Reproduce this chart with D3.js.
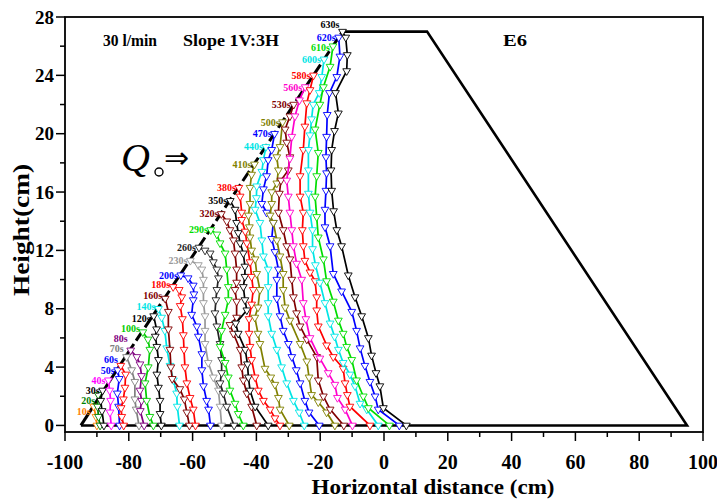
<!DOCTYPE html>
<html><head><meta charset="utf-8">
<script src="https://cdn.jsdelivr.net/npm/d3@7/dist/d3.min.js"></script>
<style>body{margin:0;background:#fff}svg{display:block}</style>
</head><body><svg id="c" width="717" height="500"></svg>
<script>
// ---- data ----
const times = ["10s","20s","30s","40s","50s","60s","70s","80s","100s","120s","140s","160s","180s","200s","230s","260s","290s","320s","350s","380s","410s","440s","470s","500s","530s","560s","580s","600s","610s","620s","630s"];
const p10=[[-91,1.3],[-90.3,0.6],[-90,0]];
const p20=[[-89.6,2.1],[-89.8,1.3],[-89.5,0.6],[-89,0]];
const p30=[[-88.2,2.4],[-88.8,1.7],[-88.4,1.0],[-87.8,0]];
const p40=[[-86.4,3.1],[-86,2.4],[-85.7,1.7],[-85.9,0.9],[-85.5,0]];
const p50=[[-83.5,3.8],[-83,3.2],[-83.6,2.2],[-83.2,1.3],[-82.9,0]];
const p60=[[-82.5,4.1],[-81,3.5],[-81.2,2.6],[-81.7,1.8],[-82.4,1.2],[-82.2,0.6],[-81.6,0]];
const p70=[[-80.7,4.7],[-79.1,3.8],[-78.1,3.0],[-78.1,1.8],[-77.7,1.1],[-76.8,0]];
const p80=[[-79.4,5.15],[-77.5,4.7],[-76.5,4.2],[-76,3.4],[-76.5,2.4],[-76,1.7],[-76.4,1.0],[-75.2,0]];
const p100=[[-75.6,6.4],[-74,5.9],[-73.4,5.2],[-73.9,4.0],[-74.9,2.9],[-74.4,1.7],[-73.4,0.6],[-72.3,0]];
const p120=[[-72.2,7.5],[-71.3,6.6],[-71.7,6.1],[-71.2,5.4],[-70.7,4.5],[-71.2,3.5],[-70.7,2.6],[-70.2,1.7],[-70.2,0.8],[-69.8,0]];
const p140=[[-70.7,8.0],[-69.7,7.4],[-68.7,6.5],[-68.1,5.3],[-67.1,4.1],[-66,3.1],[-65,2.2],[-64.8,1.3],[-64.1,0]];
const p160=[[-68.6,8.7],[-67.6,7.8],[-67.6,6.6],[-67.1,5.2],[-66.8,4],[-66.4,3.2],[-64,2.5],[-62.6,1.8],[-61.8,0.9],[-61,0]];
const p180=[[-66.1,9.5],[-64.2,9.3],[-63.4,8.8],[-63.9,8.2],[-63.2,7.3],[-62.9,6.2],[-62.7,5.2],[-62.4,4],[-61.8,2.9],[-60.8,1.9],[-59.8,1.1],[-59.1,0]];
const p200=[[-63.7,10.3],[-61.4,10.1],[-59.8,9.6],[-59.6,9.0],[-59.8,8.6],[-60.3,7.6],[-58.7,6.8],[-58.2,6.1],[-57.1,4.9],[-57.1,3.8],[-56.6,2.7],[-55.6,1.7],[-55,1.1],[-54.4,0]];
const p230=[[-60.7,11.3],[-58.2,11],[-57.1,10.7],[-56.6,10],[-56.6,9.3],[-56.6,8.4],[-56.1,7.5],[-56.1,6.5],[-56.1,5.6],[-55.1,4.3],[-53.5,3.3],[-51.9,2.4],[-51.4,1.3],[-50.9,0]];
const p260=[[-58,12.2],[-56.1,12],[-54.5,11.8],[-53.5,11.2],[-52.4,10.7],[-51.9,10.1],[-52.4,9.3],[-52.7,8.6],[-53,7.7],[-52.4,6.8],[-51.4,5.6],[-50.9,4.5],[-50.9,3.6],[-51.4,2.9],[-50.4,2.2],[-49.3,1.3],[-47,0]];
const p290=[[-54.3,13.4],[-52.4,13.1],[-51.4,12.5],[-49.8,11.8],[-49.3,10.7],[-48.8,9.5],[-48.8,8.6],[-49.8,7.6],[-50.9,6.5],[-51.4,5.4],[-49.8,4.3],[-48.8,3.3],[-48.3,2.4],[-46.7,1.5],[-45.7,0.8],[-44.1,0]];
const p320=[[-51,14.5],[-49.3,14],[-48.3,13.4],[-47.2,12.7],[-46.7,11.8],[-46.2,10.7],[-46.2,9.8],[-46.7,9.3],[-46.2,8.5],[-46.2,7.4],[-48.3,6.9],[-47.2,6.3],[-45.1,5.2],[-44.6,4],[-44.1,3.1],[-43,2.2],[-41.5,1.3],[-39.9,0]];
const p350=[[-48.2,15.4],[-46.7,14.8],[-46.2,13.9],[-45.7,13.2],[-45.1,12.5],[-44.1,11.8],[-43.6,10.9],[-43.6,10.2],[-44.1,9.5],[-43.6,8.6],[-43,7.9],[-46.5,7.0],[-45.7,6.3],[-43.5,5.2],[-42.8,4.2],[-42.5,3.3],[-42,2.4],[-40.4,1.3],[-36.3,0]];
const p380=[[-45.5,16.3],[-45.1,15.7],[-44.6,14.6],[-44.6,14.1],[-43.5,13.3],[-43,12.5],[-42,11.2],[-41.5,10.2],[-41,9.3],[-41.5,8.3],[-42.3,7.3],[-42.3,6.3],[-42,5.4],[-41.5,4.5],[-40.4,3.3],[-39.4,2.4],[-37.8,1.7],[-35.7,1.1],[-34.2,0.5],[-32.6,0]];
const p410=[[-40.6,17.9],[-41.5,17.2],[-42,16.3],[-42,15.2],[-42.5,14.4],[-42.2,13.6],[-42,12.9],[-41.5,12],[-40.4,11.4],[-39.9,10.4],[-38.9,9.3],[-39.5,8.1],[-40.5,7.4],[-39.5,6.3],[-38.9,5.6],[-37.3,3.9],[-35.5,3.3],[-34.2,2.8],[-33.1,1.9],[-32.6,1.1],[-29.7,0]];
const p440=[[-37,19.1],[-37.8,18.2],[-38.3,17.4],[-39.9,16.4],[-40,15.6],[-40.4,14.8],[-38.9,13.9],[-38.3,12.7],[-37.8,11.6],[-36.3,10.7],[-36.3,9.5],[-36.3,8.4],[-36.3,7.5],[-35.2,6.3],[-33.6,5.2],[-32.1,4],[-30.5,2.9],[-28.4,1.7],[-26.6,0.9],[-25,0]];
const p470=[[-34.3,20],[-35.2,18.9],[-36.3,18.2],[-36.8,17.1],[-37.8,16.2],[-38.3,15.2],[-36.8,14.6],[-34.7,13.9],[-35.2,12.8],[-34.2,11.9],[-33.1,10.7],[-33.6,10],[-33.6,8.7],[-32.6,7.5],[-31.6,6.5],[-30,5.6],[-28.9,4.7],[-27.5,3.8],[-26.3,2.9],[-24.8,1.7],[-23.5,0.9],[-20.3,0]];
const p500=[[-31.8,20.8],[-32.6,19.1],[-33.6,18.4],[-33.1,17.5],[-33.6,16.6],[-35.2,16],[-35.2,15.2],[-35.7,14.4],[-34.7,13.9],[-33.6,12.7],[-32.6,11.6],[-31.6,10.4],[-31.6,9.3],[-31,8.1],[-29.5,7.2],[-26.3,5.6],[-24.2,4.4],[-23.5,3.3],[-22.7,2.1],[-20.6,1.6],[-18,0.9],[-15.4,0]];
const p530=[[-28.3,22],[-29.5,21.2],[-31,20.3],[-30.5,19.4],[-29.5,18.4],[-30,17.5],[-32.3,16.8],[-32.8,15.9],[-33.1,14.6],[-31.6,13.4],[-30.5,12.3],[-29.5,11.4],[-28.9,10],[-28.4,8.8],[-27.4,7.7],[-26.3,6.8],[-24.2,5.9],[-21.1,4.7],[-20.6,3.1],[-19,2],[-16.9,1.1],[-12.6,0]];
const p560=[[-24.7,23.2],[-26.5,22.3],[-27.9,21.2],[-28.9,19.8],[-29.5,18.3],[-30.5,16.8],[-30,15.7],[-29.5,14.6],[-28.9,13.4],[-28.4,12.3],[-27.4,11.1],[-25.8,10],[-25.3,8.4],[-24.5,7.3],[-23.2,6],[-20.1,4.6],[-17.5,3.6],[-15.4,2.8],[-14.6,1.9],[-12.2,1.1],[-9.9,0]];
const p580=[[-22.1,24],[-23.2,23],[-24.2,22.1],[-24.8,20.5],[-25.3,18.9],[-26.3,17.1],[-26.3,15.7],[-25.3,14.6],[-25.6,13.4],[-25.3,12.3],[-24.8,11.3],[-23.2,10.5],[-21.6,9.9],[-21.1,8.8],[-21.1,7.9],[-20.6,6.8],[-18,5.5],[-15.9,4.7],[-12.8,3.9],[-12.2,2.9],[-11.5,2.1],[-10.7,1.3],[-4.4,0]];
const p600=[[-18.8,25.1],[-19.5,23.9],[-20.3,22.8],[-22.2,22.0],[-22.7,21],[-23.2,19.9],[-23.7,18.9],[-23.7,17.5],[-23.7,15.9],[-23.2,14.6],[-22.4,13.4],[-22.4,12.1],[-21.5,11],[-20.1,9.8],[-18.5,8.4],[-16.9,7],[-15.5,6.1],[-14.3,5.2],[-12.8,4.3],[-10.7,3.5],[-9.1,2.7],[-7.5,1.5],[-5.4,1.1],[-1.8,0]];
const p610=[[-16,26],[-16.9,24.6],[-19,23.2],[-20.1,22],[-21.6,20.3],[-20.6,18.7],[-21.1,17.1],[-21.6,15.7],[-21.1,14.3],[-20.6,12.9],[-19,11.4],[-18,9.9],[-15.9,8.5],[-14.3,7.2],[-12.8,6.3],[-11.7,5.4],[-10.1,4.5],[-8.6,3.1],[-6.5,2],[-4.9,1.2],[1.7,0]];
const p620=[[-14.2,26.6],[-13.8,25.3],[-14.8,23.9],[-17.1,22.8],[-17.8,21.3],[-18,19.8],[-18.2,18.4],[-18,17.3],[-18.2,16.1],[-18.5,14.8],[-18.5,13.6],[-16.9,12.3],[-15.9,10.4],[-13.3,9.2],[-10.1,7.8],[-8.6,6.5],[-7.5,5.3],[-6,4.1],[-4.4,3],[-2.8,2],[-1.8,1.1],[4.8,0]];
const p630=[[-13,27],[-12,26.6],[-11.5,25.4],[-11.7,24.3],[-15.2,22.8],[-14.3,21.4],[-15.5,20.2],[-16.4,18.9],[-16.6,17.5],[-16.4,16.1],[-15.8,14.7],[-14.8,13.4],[-13.3,12.3],[-11.2,10.3],[-9.1,8.8],[-7,7.5],[-4.9,6.0],[-3.9,4.8],[-2.5,3.6],[-1.3,2.7],[-0.2,1.2],[7,0]];
const profiles=[p10,p20,p30,p40,p50,p60,p70,p80,p100,p120,p140,p160,p180,p200,p230,p260,p290,p320,p350,p380,p410,p440,p470,p500,p530,p560,p580,p600,p610,p620,p630];
const damFace=[[-95,0],[-80.5,4.9]];
const damFaceDashed=[[-80.5,4.9],[-13,27]];
const damRest=[[-13,27],[13.5,27],[95,0],[-95,0]];
const xMajor=[-100,-80,-60,-40,-20,0,20,40,60,80,100];
const xMinor=[-90,-70,-50,-30,-10,10,30,50,70,90];
const yMajor=[0,4,8,12,16,20,24,28];
const yMinor=[2,6,10,14,18,22,26];

// ---- styles ----
const lineColors=["#FF8000","#008000","#000000","#FF00FF","#0000FF","#FF0000","#808080","#800080","#00CC00","#000000","#00E5E5","#800000","#FF0000","#0000FF","#999999","#222222","#00DD00","#800000","#000000","#FF0000","#808000","#00E5E5","#0000FF","#808000","#800000","#FF00CC","#FF0000","#00E5E5","#00DD00","#0000FF","#000000"];
const labelColors=lineColors.slice(); labelColors[5]="#0000FF";
// small vertical nudges of the time labels (px)
const labelNudge=[5,6,0,0,0,-6,-8,-12,-4,2,-2,-3,-2,0,0,0,0,0,0,0,0,0,0,0,0,0,0,0,1,0,-7];
const SERIF="'Liberation Serif','Times New Roman',serif";

const svg=d3.select("#c");
const x=d3.scaleLinear().domain([-100,100]).range([65,703]);
const y=d3.scaleLinear().domain([-0.45,28]).range([432,17]);

// frame
svg.append("rect").attr("x",65).attr("y",17).attr("width",638).attr("height",415)
  .attr("fill","none").attr("stroke","#000").attr("stroke-width",1.8);

// ticks
const g=svg.append("g").attr("stroke","#000").attr("stroke-width",1.5);
xMajor.forEach(v=>g.append("line").attr("x1",x(v)).attr("x2",x(v)).attr("y1",432).attr("y2",441));
xMinor.forEach(v=>g.append("line").attr("x1",x(v)).attr("x2",x(v)).attr("y1",432).attr("y2",437));
yMajor.forEach(v=>g.append("line").attr("x1",56).attr("x2",65).attr("y1",y(v)).attr("y2",y(v)));
yMinor.forEach(v=>g.append("line").attr("x1",60).attr("x2",65).attr("y1",y(v)).attr("y2",y(v)));

svg.append("g").selectAll("text").data(xMajor).join("text")
  .attr("x",d=>x(d)).attr("y",469).attr("text-anchor","middle")
  .attr("font-family",SERIF).attr("font-weight","bold").attr("font-size",20).text(d=>d);
svg.append("g").selectAll("text").data(yMajor).join("text")
  .attr("x",54).attr("y",d=>y(d)+6.5).attr("text-anchor","end")
  .attr("font-family",SERIF).attr("font-weight","bold").attr("font-size",19).text(d=>d);

svg.append("text").attr("x",433).attr("y",494).attr("text-anchor","middle")
  .attr("font-family",SERIF).attr("font-weight","bold").attr("font-size",21)
  .attr("textLength",243).attr("lengthAdjust","spacingAndGlyphs").text("Horizontal distance (cm)");
svg.append("text").attr("transform","translate(29,230) rotate(-90)").attr("text-anchor","middle")
  .attr("font-family",SERIF).attr("font-weight","bold").attr("font-size",23)
  .attr("textLength",132).attr("lengthAdjust","spacingAndGlyphs").text("Height(cm)");

// annotations
const ann=[["30 l/min",103,54],["Slope 1V:3H",183,96],["E6",503,24]];
ann.forEach(a=>svg.append("text").attr("x",a[1]).attr("y",46).attr("font-family",SERIF)
  .attr("font-weight","bold").attr("font-size",17).attr("textLength",a[2]).attr("lengthAdjust","spacingAndGlyphs").text(a[0]));
svg.append("text").attr("x",121).attr("y",171).attr("font-family",SERIF).attr("font-style","italic")
  .attr("font-size",40).text("Q");
svg.append("circle").attr("cx",159).attr("cy",172).attr("r",4).attr("fill","none").attr("stroke","#000").attr("stroke-width",1.4);
svg.append("text").attr("x",164).attr("y",168).attr("font-family","'DejaVu Sans',sans-serif")
  .attr("font-size",30).text("\u21D2");

// dam
const ln=d3.line().x(d=>x(d[0])).y(d=>y(d[1]));
svg.append("path").attr("d",ln(damFace)).attr("fill","none").attr("stroke","#000").attr("stroke-width",3);
svg.append("path").attr("d",ln(damFaceDashed)).attr("fill","none").attr("stroke","#000").attr("stroke-width",3).attr("stroke-dasharray","12,4");
svg.append("path").attr("d",ln(damRest)).attr("fill","none").attr("stroke","#000").attr("stroke-width",2.6).attr("stroke-linejoin","miter");

// profiles
const tri=d3.symbol().type(d3.symbolTriangle).size(26);
profiles.forEach((pts,i)=>{
  const c=lineColors[i];
  const gg=svg.append("g");
  gg.append("path").attr("d",ln(pts)).attr("fill","none").attr("stroke",c).attr("stroke-width",1.7);
  gg.selectAll("path.m").data(pts).join("path").attr("class","m")
    .attr("d",tri).attr("transform",d=>`translate(${x(d[0])},${y(d[1])}) rotate(180)`)
    .attr("fill","#fff").attr("stroke",c).attr("stroke-width",0.9);
});
profiles.forEach((pts,i)=>{
  const s=pts[0];
  svg.append("text").attr("x",x(s[0])-3).attr("y",y(s[1])+labelNudge[i]).attr("dy","0.35em").attr("text-anchor","end")
    .attr("font-family",SERIF).attr("font-weight","bold").attr("font-size",10)
    .attr("fill",labelColors[i]).text(times[i]);
});
</script></body></html>
